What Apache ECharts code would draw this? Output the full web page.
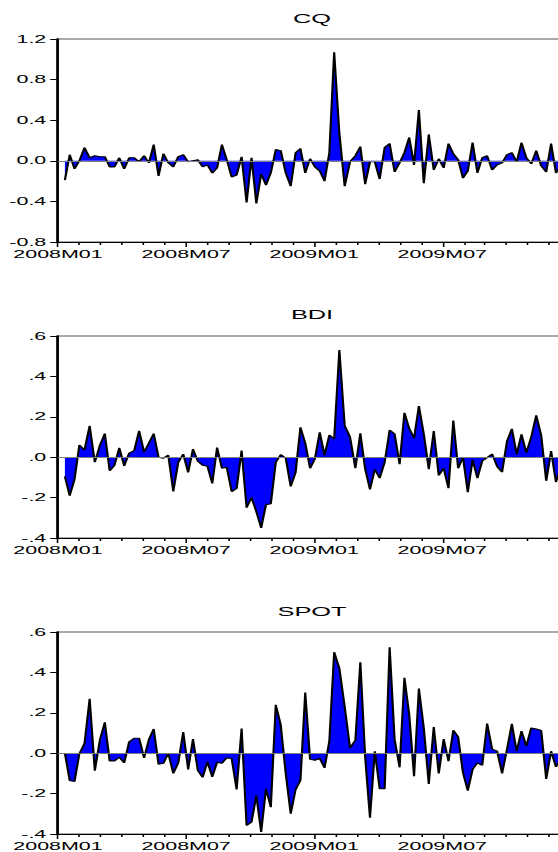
<!DOCTYPE html>
<html>
<head>
<meta charset="utf-8">
<script src="https://cdn.jsdelivr.net/npm/echarts@6/dist/echarts.min.js"></script>
<style>
html,body{margin:0;padding:0;background:#fff;overflow:hidden;width:558px;height:852px}
/* the original picture is stretched sideways, so draw narrow and scale x */
#main{width:300px;height:852px;transform:scaleX(1.95);transform-origin:0 0}
</style>
</head>
<body>
<div id="main"></div>
<script>
// weekly observations, first one on this date
var startDate = [2008, 0, 11];

var cq = [-0.19,0.06,-0.08,0.0,0.13,0.03,0.05,0.04,0.04,-0.06,
  -0.06,0.03,-0.08,0.03,0.03,-0.01,0.05,-0.02,0.16,-0.15,
  0.07,-0.02,-0.06,0.04,0.06,-0.01,0.0,0.01,-0.06,-0.04,
  -0.12,-0.07,0.16,0.01,-0.16,-0.14,0.04,-0.41,0.03,-0.42,
  -0.13,-0.24,-0.12,0.11,0.10,-0.12,-0.25,0.08,0.12,-0.12,
  0.02,-0.06,-0.10,-0.20,0.08,1.07,0.27,-0.25,-0.01,0.05,
  0.14,-0.23,-0.01,-0.01,-0.18,0.13,0.17,-0.11,-0.02,0.08,
  0.23,-0.04,0.50,-0.22,0.26,-0.09,0.02,-0.07,0.17,0.07,
  0.01,-0.17,-0.10,0.18,-0.12,0.03,0.05,-0.09,-0.04,-0.02,
  0.06,0.08,-0.01,0.18,0.03,-0.03,0.10,-0.05,-0.11,0.17,
  -0.12,-0.05];

var bdi = [-0.095,-0.19,-0.11,0.06,0.036,0.155,-0.025,0.06,0.117,-0.067,
  -0.04,0.046,-0.043,0.02,0.033,0.13,0.025,0.07,0.117,0.0,
  -0.005,0.01,-0.17,-0.025,0.015,-0.075,0.04,-0.02,-0.04,-0.045,
  -0.13,0.048,-0.055,-0.05,-0.17,-0.155,0.033,-0.25,-0.2,-0.27,
  -0.35,-0.235,-0.23,-0.026,0.013,-0.005,-0.145,-0.075,0.148,0.07,
  -0.055,-0.008,0.123,0.01,0.11,0.09,0.53,0.156,0.10,-0.055,
  0.118,-0.058,-0.16,-0.06,-0.104,-0.026,0.135,0.115,-0.035,0.22,
  0.143,0.094,0.253,0.115,-0.06,0.13,-0.09,-0.055,-0.153,0.182,
  -0.055,0.0,-0.173,-0.013,-0.104,-0.018,-0.002,0.016,-0.046,-0.074,
  0.08,0.14,0.015,0.113,0.023,0.10,0.207,0.107,-0.117,0.03,
  -0.123,-0.05];

var spot = [0.0,-0.135,-0.14,-0.003,0.048,0.27,-0.087,0.068,0.153,-0.038,
  -0.038,-0.02,-0.048,0.056,0.074,0.074,-0.023,0.068,0.12,-0.055,
  -0.05,0.0,-0.1,-0.048,0.105,-0.08,0.07,-0.085,-0.12,-0.043,
  -0.117,-0.045,-0.05,-0.023,-0.026,-0.18,0.122,-0.358,-0.34,-0.21,
  -0.39,-0.176,-0.267,0.24,0.14,-0.1,-0.30,-0.18,-0.135,0.30,
  -0.03,-0.035,-0.025,-0.073,0.06,0.50,0.42,0.23,0.026,0.065,
  0.45,-0.02,-0.32,0.01,-0.176,-0.176,0.525,0.068,-0.07,0.373,
  0.19,-0.114,0.32,0.125,-0.152,0.13,-0.1,0.07,-0.04,0.114,
  0.08,-0.097,-0.185,-0.08,-0.048,-0.06,0.147,0.02,0.01,-0.1,
  0.02,0.145,0.01,0.11,0.035,0.125,0.12,0.112,-0.127,0.01,
  -0.068,-0.03];

var names = ['CQ', 'BDI', 'SPOT'];
var tickLabels = {0: '2008M01', 6: '2008M07', 12: '2009M01', 18: '2009M07'};

// month position (months since 2008M01) of each weekly date
function monthPos(d) {
  var y = d.getFullYear(), m = d.getMonth();
  var dim = new Date(y, m + 1, 0).getDate();
  return (y - 2008) * 12 + m + (d.getDate() - 1) / dim;
}
var xs = [];
for (var i = 0; i < cq.length; i++) {
  xs.push(monthPos(new Date(startDate[0], startDate[1], startDate[2] + 7 * i)));
}

var S = 1.95;
var font = '"Liberation Sans", Arial, sans-serif';
var gridTops = [39, 336, 632];
var gridHeights = [203, 202, 203];
var titleYs = [18, 314.5, 611];
var yRanges = [[-0.8, 1.2, 0.4], [-0.4, 0.6, 0.2], [-0.4, 0.6, 0.2]];
var seriesData = [cq, bdi, spot];

var grids = [], xAxes = [], yAxes = [], series = [], graphics = [];
for (var k = 0; k < 3; k++) {
  grids.push({
    left: 58 / S, top: gridTops[k], width: 24 * 21.35 / S, height: gridHeights[k],
    show: true, borderColor: '#555', borderWidth: 1, backgroundColor: 'transparent'
  });
  xAxes.push({
    type: 'value', gridIndex: k, min: 0, max: 24, interval: 6,
    axisLine: {show: true, onZero: false, lineStyle: {color: '#000', width: 1}},
    axisTick: {show: true, length: 5, lineStyle: {color: '#000', width: 0.8}},
    minorTick: {show: true, splitNumber: 6, length: 3, lineStyle: {color: '#000', width: 0.8}},
    splitLine: {show: false},
    axisLabel: {
      margin: 7, color: '#000', fontSize: 11, fontFamily: font, showMaxLabel: false,
      formatter: function (v) { return tickLabels[Math.round(v)] || ''; }
    }
  });
  var r = yRanges[k];
  yAxes.push({
    type: 'value', gridIndex: k, min: r[0], max: r[1], interval: r[2],
    axisLine: {show: true, onZero: false, lineStyle: {color: '#000', width: 1.4}},
    axisTick: {show: true, length: 4, lineStyle: {color: '#000', width: 1}},
    splitLine: {show: false},
    axisLabel: {
      margin: 6, color: '#000', fontSize: 11, fontFamily: font,
      formatter: (function (kk) {
        return function (v) {
          var s = v.toFixed(1);
          if (kk > 0) s = s.replace('0.', '.');
          return s;
        };
      })(k)
    }
  });
  var pts = seriesData[k].map(function (v, i) { return [xs[i], v]; });
  series.push({
    type: 'line', xAxisIndex: k, yAxisIndex: k, data: pts,
    symbol: 'none', showSymbol: false,
    lineStyle: {color: '#000', width: 1.1},
    areaStyle: {color: '#0000ff', opacity: 1, origin: 'auto'},
    markLine: {
      silent: true, symbol: 'none', label: {show: false},
      lineStyle: {color: '#808080', width: 1, type: 'solid'},
      data: [{yAxis: 0}]
    }
  });
  graphics.push({
    type: 'text', x: 312 / S, y: titleYs[k],
    style: {text: names[k], align: 'center', verticalAlign: 'middle',
      textAlign: 'center', textVerticalAlign: 'middle',
      fontSize: 13, fontFamily: font, fill: '#000'}
  });
}

var myChart = echarts.init(document.getElementById('main'), null, {renderer: 'svg'});
myChart.setOption({
  animation: false,
  backgroundColor: '#fff',
  grid: grids,
  xAxis: xAxes,
  yAxis: yAxes,
  series: series,
  graphic: graphics
});
</script>
</body>
</html>
